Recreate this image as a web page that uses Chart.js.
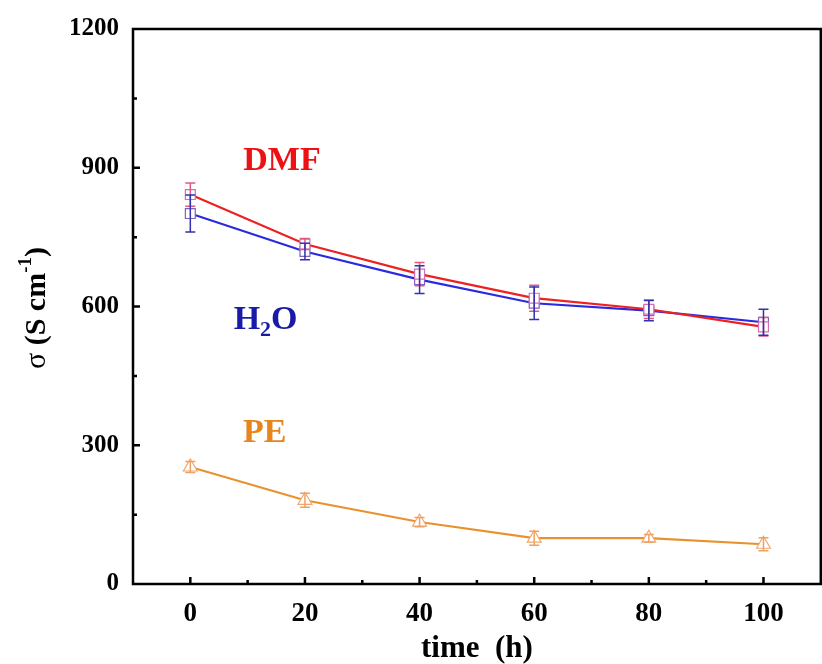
<!DOCTYPE html>
<html>
<head>
<meta charset="utf-8">
<script src="https://cdn.jsdelivr.net/npm/chart.js@4.4.0/dist/chart.umd.min.js"></script>
<style>
  html, body { margin: 0; padding: 0; background: #fff; overflow: hidden; }
  #wrap { width: 830px; height: 664px; }
</style>
</head>
<body>
<div id="wrap"><canvas id="chart" width="830" height="664"></canvas></div>
<script>
// time points (h)
const times = [0, 20, 40, 60, 80, 100];

// conductivity values (S cm-1)
const dmfValues = [842, 735, 670, 618, 594, 556];
const dmfErr = [25, 12, 25, 28, 20, 20];
const h2oValues = [801, 719, 658, 607, 591, 566];
const h2oErr = [40, 18, 30, 35, 22, 28];
const peValues = [253, 181, 134, 99, 99, 86];
const peErr = [12, 15, 10, 15, 8, 14];

const yTicks = [0, 300, 600, 900, 1200];
const xTicks = [0, 20, 40, 60, 80, 100];

const serif = "'Liberation Serif', 'Times New Roman', serif";

function pts(vals) {
  return times.map((t, i) => ({ x: t, y: vals[i] }));
}

// error bars + inward ticks + frame + in-plot labels
const decorations = {
  id: "decorations",
  afterDatasetsDraw(chart) {
    const ctx = chart.ctx;
    const xs = chart.scales.x, ys = chart.scales.y;
    const errs = [dmfErr, h2oErr, peErr];
    const errColors = ["#e05a80", "#3030b0", "#f0a060"];
    ctx.save();
    chart.data.datasets.forEach((ds, di) => {
      ds.data.forEach((p, i) => {
        const px = xs.getPixelForValue(p.x);
        const top = ys.getPixelForValue(p.y + errs[di][i]);
        const bot = ys.getPixelForValue(p.y - errs[di][i]);
        ctx.strokeStyle = errColors[di];
        ctx.lineWidth = 1.5;
        ctx.beginPath();
        ctx.moveTo(px, top); ctx.lineTo(px, bot);
        ctx.moveTo(px - 5, top); ctx.lineTo(px + 5, top);
        ctx.moveTo(px - 5, bot); ctx.lineTo(px + 5, bot);
        ctx.stroke();
      });
    });

    const a = chart.chartArea;
    ctx.strokeStyle = "#000";
    ctx.lineWidth = 2.5;
    ctx.strokeRect(a.left, a.top, a.right - a.left, a.bottom - a.top);

    ctx.lineWidth = 2.5;
    ctx.beginPath();
    for (let v = -10; v <= 110; v += 10) {
      if (v <= xs.min || v >= xs.max) continue;
      const px = xs.getPixelForValue(v);
      const len = v % 20 === 0 ? 7 : 4;
      ctx.moveTo(px, a.bottom); ctx.lineTo(px, a.bottom - len);
    }
    for (let v = 150; v < 1200; v += 150) {
      const py = ys.getPixelForValue(v);
      const len = v % 300 === 0 ? 7 : 4;
      ctx.moveTo(a.left, py); ctx.lineTo(a.left + len, py);
    }
    ctx.stroke();

    ctx.textAlign = "center";
    ctx.textBaseline = "middle";
    ctx.font = "bold 34px " + serif;
    ctx.fillStyle = "#ee1111";
    ctx.fillText("DMF", xs.getPixelForValue(16), ys.getPixelForValue(915));
    ctx.fillStyle = "#e8841e";
    ctx.fillText("PE", xs.getPixelForValue(13), ys.getPixelForValue(325));
    ctx.fillStyle = "#1a1aa8";
    ctx.textAlign = "left";
    const hx = xs.getPixelForValue(10), hy = ys.getPixelForValue(570);
    ctx.fillText("H", hx - 14, hy);
    const hw = ctx.measureText("H").width;
    ctx.font = "bold 22px " + serif;
    ctx.fillText("2", hx - 14 + hw, hy + 10);
    const tw = ctx.measureText("2").width;
    ctx.font = "bold 34px " + serif;
    ctx.fillText("O", hx - 14 + hw + tw, hy);

    // y title with superscript
    ctx.save();
    ctx.translate(37, 308);
    ctx.rotate(-Math.PI / 2);
    ctx.fillStyle = "#000";
    ctx.textAlign = "left";
    const parts = [
      { t: "\u03c3 ", f: "30px " + serif, dy: 0 },
      { t: "(S cm", f: "bold 30px " + serif, dy: 0 },
      { t: "-1", f: "bold 19px " + serif, dy: -11 },
      { t: ")", f: "bold 30px " + serif, dy: 0 },
    ];
    let total = 0;
    parts.forEach((p) => { ctx.font = p.f; p.w = ctx.measureText(p.t).width; total += p.w; });
    let sx = -total / 2;
    parts.forEach((p) => { ctx.font = p.f; ctx.fillText(p.t, sx, p.dy); sx += p.w; });
    ctx.restore();

    ctx.restore();
  }
};

new Chart(document.getElementById("chart").getContext("2d"), {
  type: "line",
  data: {
    datasets: [
      {
        label: "DMF",
        data: pts(dmfValues),
        borderColor: "#ee2020",
        borderWidth: 2.2,
        pointStyle: "rect",
        pointRadius: 7,
        pointBorderWidth: 1.2,
        pointBorderColor: "#d070b0",
        pointBackgroundColor: "#ffffff",
      },
      {
        label: "H2O",
        data: pts(h2oValues),
        borderColor: "#2a2ae0",
        borderWidth: 2.2,
        pointStyle: "rect",
        pointRadius: 7,
        pointBorderWidth: 1.2,
        pointBorderColor: "#8060c0",
        pointBackgroundColor: "#ffffff",
      },
      {
        label: "PE",
        data: pts(peValues),
        borderColor: "#e8922e",
        borderWidth: 2.2,
        pointStyle: "triangle",
        pointRadius: 8,
        pointBorderWidth: 1.2,
        pointBorderColor: "#f0a870",
        pointBackgroundColor: "#ffffff",
      },
    ],
  },
  options: {
    responsive: false,
    animation: false,
    layout: { padding: { top: 28, right: 4, left: 0, bottom: 0 } },
    plugins: { legend: { display: false }, tooltip: { enabled: false } },
    scales: {
      x: {
        type: "linear",
        min: -10,
        max: 110,
        afterBuildTicks: (s) => { s.ticks = xTicks.map((v) => ({ value: v })); },
        afterFit: (s) => { s.height = 80; },
        grid: { display: false, drawTicks: false },
        border: { display: false },
        ticks: {
          color: "#000",
          padding: 14,
          font: { family: serif, size: 27, weight: "bold" },
          callback: (v) => String(v),
        },
        title: {
          display: true,
          text: "time  (h)",
          color: "#000",
          padding: { top: 0, bottom: -4 },
          font: { family: serif, size: 31, weight: "bold" },
        },
      },
      y: {
        min: 0,
        max: 1200,
        afterBuildTicks: (s) => { s.ticks = yTicks.map((v) => ({ value: v })); },
        afterFit: (s) => { s.width = 133; },
        grid: { display: false, drawTicks: false },
        border: { display: false },
        ticks: {
          color: "#000",
          padding: 14,
          font: { family: serif, size: 25, weight: "bold" },
          callback: (v) => String(v),
        },
      },
    },
  },
  plugins: [decorations],
});
</script>
</body>
</html>
